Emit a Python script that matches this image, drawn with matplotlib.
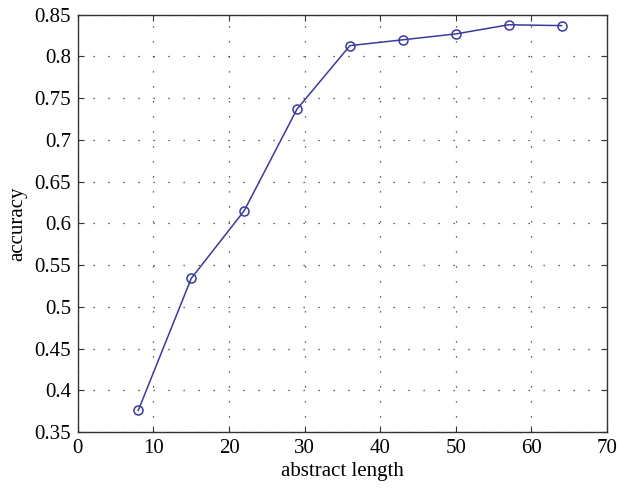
import matplotlib.pyplot as plt
import numpy as np

plt.rcParams['font.family'] = ['Liberation Serif', 'DejaVu Serif']

lengths = [8, 15, 22, 29, 36, 43, 50, 57, 64]
accuracy = [0.376, 0.534, 0.615, 0.737, 0.813, 0.820, 0.827, 0.838, 0.837]
xticks = [0, 10, 20, 30, 40, 50, 60, 70]
yticks = [0.35, 0.4, 0.45, 0.5, 0.55, 0.6, 0.65, 0.7, 0.75, 0.8, 0.85]

fig = plt.figure(figsize=(6.18, 4.92), dpi=100)
ax = fig.add_axes([0.126, 0.122, 0.856, 0.848])
ax.plot(lengths, accuracy, color='#3a3a9c', lw=1.1, marker='o', ms=6.5,
        mfc='none', mec='#3a3a9c', mew=1.1)

ax.set_xlim(0, 70); ax.set_ylim(0.35, 0.85)
ax.set_xticks(xticks); ax.set_yticks(yticks)
ax.set_xticklabels([str(t) for t in xticks])
ax.set_yticklabels(['%g' % t for t in yticks])
ax.grid(True, linestyle=(0, (1, 11)), color='#333333', lw=0.9)
ax.tick_params(direction='in', top=True, right=True, labelsize=15, length=4, color='#333333', pad=5)
for s in ax.spines.values():
    s.set_color('#333333'); s.set_linewidth(1.0)
ax.set_xlabel('abstract length', fontsize=15, labelpad=3)
ax.set_ylabel('accuracy', fontsize=15, labelpad=5)

fig.savefig('out.png', dpi=100)
